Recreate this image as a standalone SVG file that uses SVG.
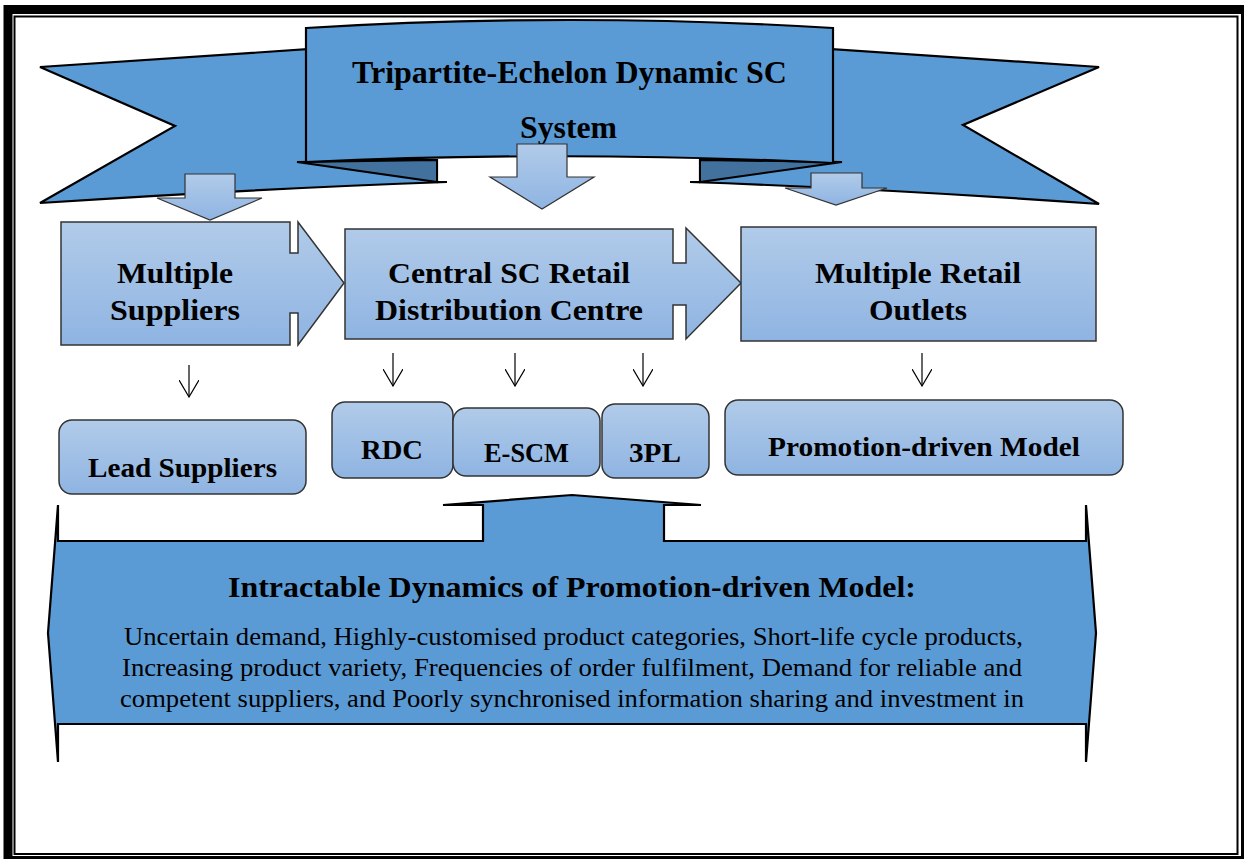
<svg xmlns="http://www.w3.org/2000/svg" width="1244" height="859" viewBox="0 0 1244 859">
<defs>
<linearGradient id="gb" x1="0" y1="0" x2="0" y2="1">
<stop offset="0" stop-color="#B1CBE9"/>
<stop offset="1" stop-color="#8FB4E2"/>
</linearGradient>
<marker id="ah" viewBox="0 0 18 20" refX="17" refY="10" markerWidth="18" markerHeight="20" markerUnits="userSpaceOnUse" orient="auto">
<path d="M0,0 L17,10 L0,20" fill="none" stroke="#000" stroke-width="1.2"/>
</marker>
</defs>
<style>
.rib{fill:#5B9BD5;stroke:#000;stroke-width:2.2;stroke-linejoin:miter}
.fold{fill:#41719C;stroke:#000;stroke-width:2}
.box{fill:url(#gb);stroke:#333;stroke-width:1.5}
.sa{fill:url(#gb);stroke:#333;stroke-width:1.2}
.t{font-family:"Liberation Serif","Times New Roman",serif;font-weight:bold;fill:#000;text-anchor:middle}
.b{font-family:"Liberation Serif","Times New Roman",serif;fill:#000;text-anchor:middle}
.con line{stroke:#000;stroke-width:1.2;marker-end:url(#ah)}
</style>
<rect width="1244" height="859" fill="#fff"/>
<!-- frame -->
<rect x="8" y="9.5" width="1237.5" height="851" fill="none" stroke="#000" stroke-width="9"/>
<rect x="14.5" y="16.5" width="1223" height="837.5" fill="none" stroke="#000" stroke-width="2"/>

<g id="banner">
<path class="rib" d="M40,67 L310,49 L310,160 L437,160 L437,182 L447,182 Q250,189 40,203 L175,126 Z"/>
<path class="rib" d="M1099,67 L829,49 L829,160 L700,160 L700,182 L690,182 Q890,189 1099,204 L963,125 Z"/>
<path class="fold" d="M297,162 L437,160 L437,182 Z"/>
<path class="fold" d="M842,162 L700,160 L700,182 Z"/>
<path class="rib" d="M306,28 Q570,12 833,28 L833,163 Q570,150 306,162 Z"/>
<text class="t" x="569.5" y="83" font-size="31" textLength="435" lengthAdjust="spacingAndGlyphs">Tripartite-Echelon Dynamic SC</text>
<text class="t" x="568.5" y="138" font-size="31" textLength="97" lengthAdjust="spacingAndGlyphs">System</text>
</g>

<g id="down-arrows">
<path class="sa" d="M185,174 H235 V198 H262 L210,220 L157,198 H185 Z"/>
<path class="sa" d="M517,144 H567 V177 H594 L542,209 L490,177 H517 Z"/>
<path class="sa" d="M811,173 H862 V188 H887 L836,205 L785,188 H811 Z"/>
</g>

<g id="multiple-suppliers">
<path class="box" d="M61,222 H290 V253 H298 V222 L344,283 L298,345 V313 H290 V345 H61 Z"/>
<text class="t" x="175" y="283" font-size="30" textLength="116" lengthAdjust="spacingAndGlyphs">Multiple</text>
<text class="t" x="175" y="320" font-size="30" textLength="130" lengthAdjust="spacingAndGlyphs">Suppliers</text>
</g>

<g id="central-sc">
<path class="box" d="M345,229 H673 V263 H686 V228 L741,283 L686,339 V305 H673 V339 H345 Z"/>
<text class="t" x="509" y="283" font-size="30" textLength="242" lengthAdjust="spacingAndGlyphs">Central SC Retail</text>
<text class="t" x="509" y="320" font-size="30" textLength="268" lengthAdjust="spacingAndGlyphs">Distribution Centre</text>
</g>

<g id="multiple-retail">
<rect class="box" x="741" y="227" width="355" height="114"/>
<text class="t" x="918" y="283" font-size="30" textLength="206" lengthAdjust="spacingAndGlyphs">Multiple Retail</text>
<text class="t" x="918" y="320" font-size="30" textLength="98" lengthAdjust="spacingAndGlyphs">Outlets</text>
</g>

<g class="con" id="connectors">
<line x1="189" y1="365" x2="189" y2="397"/>
<line x1="393" y1="353" x2="393" y2="386"/>
<line x1="515" y1="353" x2="515" y2="386"/>
<line x1="643" y1="353" x2="643" y2="386"/>
<line x1="922" y1="353" x2="922" y2="386"/>
</g>

<g id="lead-suppliers">
<rect class="box" x="59" y="420" width="247" height="74" rx="13"/>
<text class="t" x="182.5" y="477" font-size="27" textLength="189" lengthAdjust="spacingAndGlyphs">Lead Suppliers</text>
</g>
<g id="rdc">
<rect class="box" x="332" y="402" width="121" height="76" rx="13"/>
<text class="t" x="392" y="459" font-size="27" textLength="62" lengthAdjust="spacingAndGlyphs">RDC</text>
</g>
<g id="escm">
<rect class="box" x="453" y="408" width="147" height="68" rx="13"/>
<text class="t" x="526.5" y="462" font-size="27" textLength="85" lengthAdjust="spacingAndGlyphs">E-SCM</text>
</g>
<g id="tpl">
<rect class="box" x="602" y="404" width="107" height="74" rx="13"/>
<text class="t" x="655" y="462" font-size="27" textLength="52" lengthAdjust="spacingAndGlyphs">3PL</text>
</g>
<g id="promotion-model">
<rect class="box" x="725" y="400" width="398" height="75" rx="13"/>
<text class="t" x="924" y="456" font-size="27" textLength="312" lengthAdjust="spacingAndGlyphs">Promotion-driven Model</text>
</g>

<g id="intractable">
<path class="rib" d="M58,541 H483 V505 H443 L572,495 L701,505 H664 V541 H1086 V505 L1096,633 L1086,762 V724 H58 V762 L48,633 L58,505 Z"/>
<text class="t" x="572" y="597" font-size="29" textLength="688" lengthAdjust="spacingAndGlyphs">Intractable Dynamics of Promotion-driven Model:</text>
<text class="b" x="573.5" y="645" font-size="25" textLength="899" lengthAdjust="spacingAndGlyphs">Uncertain demand, Highly-customised product categories, Short-life cycle products,</text>
<text class="b" x="572" y="676" font-size="25" textLength="900" lengthAdjust="spacingAndGlyphs">Increasing product variety, Frequencies of order fulfilment, Demand for reliable and</text>
<text class="b" x="572" y="707" font-size="25" textLength="904" lengthAdjust="spacingAndGlyphs">competent suppliers, and Poorly synchronised information sharing and investment in</text>
</g>
</svg>
